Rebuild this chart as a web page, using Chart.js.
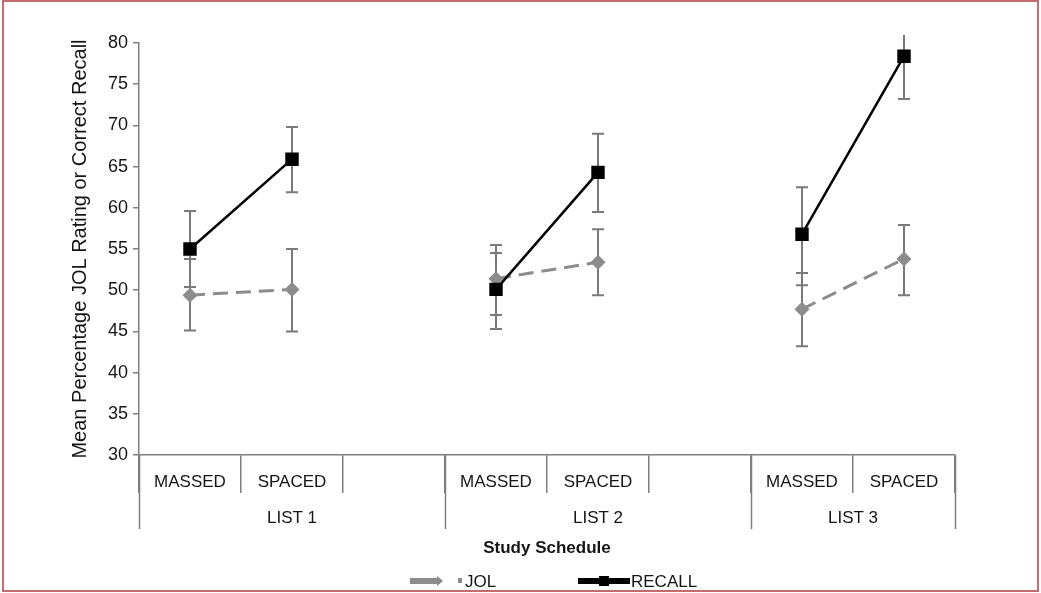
<!DOCTYPE html>
<html>
<head>
<meta charset="utf-8">
<script src="https://cdn.jsdelivr.net/npm/chart.js@4.4.1/dist/chart.umd.min.js"></script>
<style>
html,body{margin:0;padding:0;background:#ffffff;}
#wrap{position:relative;width:1041px;height:593px;}
</style>
</head>
<body>
<div id="wrap"><canvas id="c" width="1041" height="593"></canvas></div>
<script>
// ---- data ----
const categories = ['MASSED', 'SPACED', '', 'MASSED', 'SPACED', '', 'MASSED', 'SPACED'];
const groupLabels = ['LIST 1', 'LIST 2', 'LIST 3'];
const groupStart = [0, 3, 6];
const groupEnd = [3, 6, 8];

const jol       = [49.4, 50.1, null, 51.4, 53.4, null, 47.7, 53.8];
const jolLow    = [45.1, 45.0, null, 47.0, 49.4, null, 43.2, 49.4];
const jolHigh   = [53.8, 55.0, null, 54.5, 57.4, null, 52.1, 57.9];

const recall     = [55.0, 65.9, null, 50.1, 64.3, null, 56.8, 78.4];
const recallLow  = [50.4, 61.9, null, 45.3, 59.5, null, 50.6, 73.2];
const recallHigh = [59.6, 69.8, null, 55.5, 69.0, null, 62.5, 83.6];

const yMin = 30, yMax = 80, yStep = 5;
const yTitle = 'Mean Percentage JOL Rating or Correct Recall';
const xTitle = 'Study Schedule';
const seriesNames = ['JOL', 'RECALL'];

// ---- styles ----
const FONT = "'Liberation Sans', Arial, Helvetica, sans-serif";
const TEXT = '#151515';
const AXIS = '#7f7f7f';
const JOL_COLOR = '#8c8c8c';
const REC_COLOR = '#000000';
const ERR_COLOR = '#7a7a7a';

const decor = {
  id: 'decor',
  beforeDatasetsDraw(chart) {
    const ctx = chart.ctx, xs = chart.scales.x, ys = chart.scales.y;
    const top = chart.chartArea.top;
    const sets = [[jol, jolLow, jolHigh], [recall, recallLow, recallHigh]];
    ctx.save();
    ctx.strokeStyle = ERR_COLOR;
    ctx.lineWidth = 2;
    sets.forEach(([v, lo, hi]) => {
      v.forEach((val, i) => {
        if (val === null) return;
        const x = xs.getPixelForValue(i);
        const yl = ys.getPixelForValue(lo[i]);
        let yh = ys.getPixelForValue(hi[i]);
        let capTop = true;
        if (yh < top - 8) { yh = top - 8; capTop = false; }
        ctx.beginPath();
        ctx.moveTo(x, yl); ctx.lineTo(x, yh);
        ctx.moveTo(x - 6, yl); ctx.lineTo(x + 6, yl);
        if (capTop) { ctx.moveTo(x - 6, yh); ctx.lineTo(x + 6, yh); }
        ctx.stroke();
      });
    });
    ctx.restore();
  },
  afterDraw(chart) {
    const ctx = chart.ctx, xs = chart.scales.x;
    const bottom = chart.chartArea.bottom;
    ctx.save();
    // group dividers (long)
    ctx.strokeStyle = AXIS;
    ctx.lineWidth = 1.5;
    const edges = [0, 3, 6, 8];
    edges.forEach(e => {
      const x = Math.round(xs.getPixelForValue(e - 0.5)) + 0.5;
      ctx.beginPath();
      ctx.moveTo(x, bottom);
      ctx.lineTo(x, bottom + 74);
      ctx.stroke();
    });
    // group labels
    ctx.fillStyle = TEXT;
    ctx.font = '17px ' + FONT;
    ctx.textAlign = 'center';
    ctx.textBaseline = 'middle';
    groupLabels.forEach((g, k) => {
      const x1 = xs.getPixelForValue(groupStart[k] - 0.5);
      const x2 = xs.getPixelForValue(groupEnd[k] - 0.5);
      ctx.fillText(g, (x1 + x2) / 2, bottom + 63);
    });
    // legend
    const ly = 581;
    ctx.fillStyle = JOL_COLOR;
    ctx.fillRect(410, ly - 3, 30, 6);
    ctx.beginPath();
    ctx.moveTo(437, ly - 5); ctx.lineTo(443, ly); ctx.lineTo(437, ly + 5); ctx.closePath();
    ctx.fill();
    ctx.fillRect(458, ly - 3, 4, 5);
    ctx.fillStyle = TEXT;
    ctx.textAlign = 'left';
    ctx.fillText(seriesNames[0], 465, ly + 1);
    ctx.fillStyle = REC_COLOR;
    ctx.fillRect(578, ly - 3, 52, 6);
    ctx.fillRect(599, ly - 5, 10, 10);
    ctx.fillStyle = TEXT;
    ctx.fillText(seriesNames[1], 631, ly + 1);
    // frame
    ctx.strokeStyle = '#c46b6b';
    ctx.lineWidth = 2;
    ctx.strokeRect(3, 1, 1035, 590);
    ctx.restore();
  }
};

new Chart(document.getElementById('c'), {
  type: 'line',
  data: {
    labels: categories,
    datasets: [
      {
        label: seriesNames[0],
        data: jol,
        order: 2,
        borderColor: JOL_COLOR,
        backgroundColor: JOL_COLOR,
        borderWidth: 3,
        borderDash: [15, 8],
        pointStyle: 'rectRot',
        pointRadius: 7.5,
        pointBorderWidth: 0,
        pointBackgroundColor: JOL_COLOR,
        spanGaps: false,
        tension: 0
      },
      {
        label: seriesNames[1],
        data: recall,
        order: 1,
        borderColor: REC_COLOR,
        backgroundColor: REC_COLOR,
        borderWidth: 2.5,
        pointStyle: 'rect',
        pointRadius: 9.5,
        pointBorderWidth: 0,
        pointBackgroundColor: REC_COLOR,
        spanGaps: false,
        tension: 0
      }
    ]
  },
  options: {
    responsive: false,
    animation: false,
    devicePixelRatio: 1,
    layout: { padding: { left: 0, top: 43, right: 86, bottom: 0 } },
    plugins: {
      legend: { display: false },
      tooltip: { enabled: false },
      title: { display: false }
    },
    scales: {
      x: {
        type: 'category',
        offset: true,
        grid: {
          offset: true,
          drawOnChartArea: false,
          drawTicks: true,
          tickLength: 38,
          color: AXIS,
          lineWidth: 1.5
        },
        border: { display: true, color: AXIS, width: 1.5 },
        ticks: {
          autoSkip: false,
          maxRotation: 0,
          minRotation: 0,
          padding: -21,
          color: TEXT,
          font: { family: FONT, size: 17 }
        },
        title: {
          display: true,
          text: xTitle,
          color: TEXT,
          font: { family: FONT, size: 17, weight: 'bold' },
          padding: { top: 0, bottom: 34 }
        },
        afterFit(scale) { scale.height = 138; }
      },
      y: {
        type: 'linear',
        min: yMin,
        max: yMax,
        grid: {
          drawOnChartArea: false,
          drawTicks: true,
          tickLength: 6,
          color: AXIS,
          lineWidth: 1.5
        },
        border: { display: true, color: AXIS, width: 1.5 },
        ticks: {
          stepSize: yStep,
          padding: 5,
          color: TEXT,
          font: { family: FONT, size: 18 }
        },
        title: {
          display: true,
          text: yTitle,
          color: TEXT,
          font: { family: FONT, size: 20 },
          padding: { top: 68, bottom: 0 }
        },
        afterFit(scale) { scale.width = 139; }
      }
    }
  },
  plugins: [decor]
});
</script>
</body>
</html>
